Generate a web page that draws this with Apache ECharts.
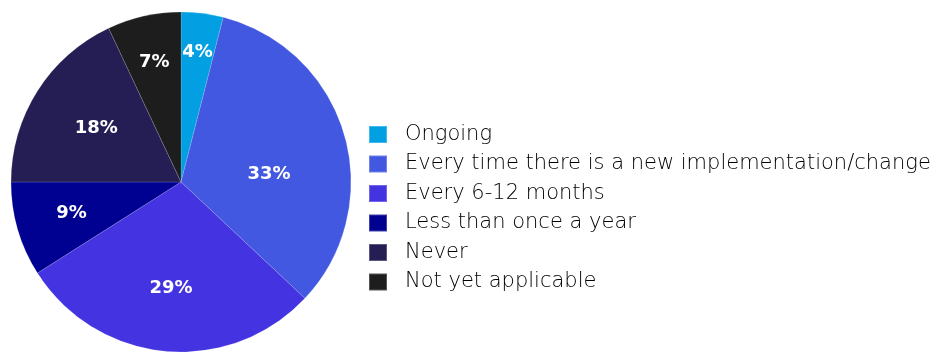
<!DOCTYPE html>
<html>
<head>
<meta charset="utf-8">
<style>
  html, body { margin: 0; padding: 0; background: #ffffff; }
  #chart { width: 933px; height: 353px; }
</style>
<script src="https://cdn.jsdelivr.net/npm/echarts@6/dist/echarts.min.js"></script>
</head>
<body>
<div id="chart"></div>
<script>
// Review frequency answers and their shares (%)
const categories = [
  'Ongoing',
  'Every time there is a new implementation/change',
  'Every 6-12 months',
  'Less than once a year',
  'Never',
  'Not yet applicable'
];
const shares = [4, 33, 29, 9, 18, 7];
const sliceColors = ['#02a0e3', '#4358e1', '#4433e0', '#000091', '#241e54', '#1d1d1d'];

// Label placement: distance from centre as a fraction of the radius, plus a small angular nudge (degrees)
const labelRadiusFrac = [0.77, 0.52, 0.63, 0.67, 0.59, 0.72];
const labelAngleNudge = [0, 11, 0, 0, 0, 0];

const CX = 181, CY = 182, R = 170;
const total = shares.reduce((a, b) => a + b, 0);
const midAngles = [];
let acc = 0;
shares.forEach(v => { midAngles.push((acc + v / 2) / total * 360); acc += v; });

const chart = echarts.init(document.getElementById('chart'), null, { renderer: 'canvas' });
chart.setOption({
  animation: false,
  color: sliceColors,
  legend: {
    orient: 'vertical',
    left: 368,
    top: 124,
    padding: 0,
    icon: 'rect',
    itemWidth: 18,
    itemHeight: 17,
    itemGap: 8.5,
    selectedMode: false,
    textStyle: {
      fontFamily: '"DejaVu Sans", sans-serif',
      fontWeight: 200,
      fontSize: 21,
      color: '#000000',
      padding: [0, 0, 0, 13]
    },
    data: categories
  },
  series: [{
    type: 'pie',
    center: [CX, CY],
    radius: [0, R],
    startAngle: 90,
    clockwise: true,
    avoidLabelOverlap: false,
    itemStyle: { borderColor: 'rgba(255,255,255,0.25)', borderWidth: 0.6 },
    label: {
      show: true,
      position: 'inside',
      formatter: '{c}%',
      color: '#ffffff',
      fontFamily: '"DejaVu Sans", sans-serif',
      fontWeight: 'bold',
      fontSize: 18
    },
    labelLine: { show: false },
    emphasis: { disabled: true },
    labelLayout: function (p) {
      const i = p.dataIndex;
      const a = (midAngles[i] + labelAngleNudge[i]) * Math.PI / 180;
      const r = R * labelRadiusFrac[i];
      return {
        x: CX + r * Math.sin(a),
        y: CY - r * Math.cos(a),
        align: 'center',
        verticalAlign: 'middle'
      };
    },
    data: categories.map((name, i) => ({ name: name, value: shares[i] }))
  }]
});
</script>
</body>
</html>
